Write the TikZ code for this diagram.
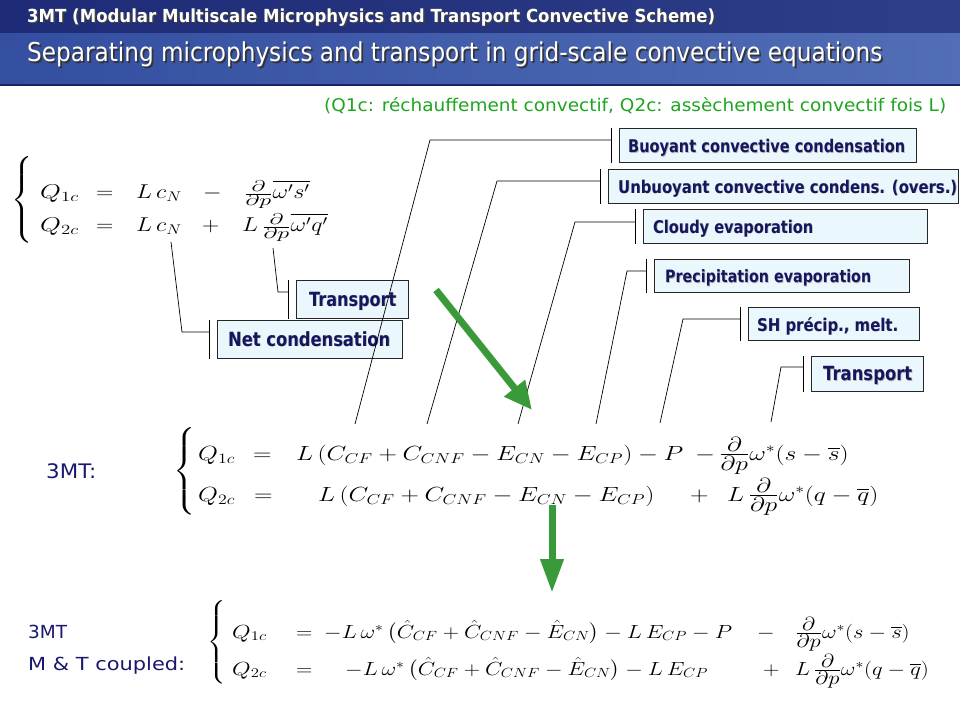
\RequirePackage{fix-cm}
\documentclass[tikz,border=0pt]{standalone}
\usepackage{amsmath}
\usepackage{fontspec}
\usepackage{graphicx}
\usetikzlibrary{arrows.meta}
\newfontfamily\dvs{DejaVu Sans}
\definecolor{navy}{RGB}{24,24,110}
\definecolor{lblnavy}{RGB}{22,22,95}
\definecolor{boxfill}{RGB}{234,248,253}
\definecolor{hdrtopL}{RGB}{30,43,118}
\definecolor{hdrtopR}{RGB}{46,62,136}
\definecolor{hdrmidL}{RGB}{52,78,160}
\definecolor{hdrmidR}{RGB}{82,110,182}
\definecolor{hdrline}{RGB}{24,34,100}
\definecolor{subgreen}{RGB}{30,165,30}
\definecolor{arrgreen}{RGB}{58,154,58}
\newcommand{\shadtxt}[4]{\makebox[0pt][l]{\hspace*{#3}\raisebox{-#3}{\textcolor{#2}{#4}}}\textcolor{#1}{#4}}
\newcommand{\eqa}[1]{\scalebox{1.20}[1]{\fontsize{20}{24}\selectfont$#1$}}
\newcommand{\eqb}[1]{\scalebox{1.25}[1]{\fontsize{20.5}{24}\selectfont$#1$}}
\newcommand{\eqc}[1]{\scalebox{1.19}[1]{\fontsize{19}{23}\selectfont$#1$}}
\newcommand{\pdpa}{\scalebox{1}[0.78]{$\frac{\textstyle\partial}{\textstyle\partial p}$}}
\newcommand{\pdpb}{\frac{\textstyle\partial}{\textstyle\partial p}}
\newcommand{\bracebox}[3]{\scalebox{#1}[1]{\fontsize{#2}{#2}\selectfont$\left\{\vrule height #3 depth #3 width 0pt\right.$}}
\begin{document}
\begin{tikzpicture}[x=1pt,y=-1pt,
  lbox/.style={draw=black!85, line width=0.8pt, fill=boxfill, inner sep=0pt, anchor=north west},
  ltxt/.style={anchor=base west, inner sep=0pt, font=\dvs\bfseries},
  leader/.style={draw=black, line width=0.7pt},
  barline/.style={draw=black, line width=0.9pt},
  garrow/.style={draw=arrgreen, line width=7pt},
  eqn/.style={anchor=base west, inner sep=0pt},
  brc/.style={anchor=west, inner sep=0pt},
  sidetxt/.style={anchor=base west, inner sep=0pt, font=\dvs, text=navy}]
\useasboundingbox (0,0) rectangle (960,720);
\fill[white] (0,0) rectangle (960,720);
% header
\shade[left color=hdrtopL, right color=hdrtopR] (0,0) rectangle (960,33);
\shade[left color=hdrmidL, right color=hdrmidR] (0,33) rectangle (960,84);
\fill[hdrline] (0,84) rectangle (960,86);
\node[anchor=base west, inner sep=0pt] (title1) at (27,22) {\resizebox{688pt}{\height}{\dvs\bfseries\fontsize{18}{21}\selectfont\shadtxt{white}{black!75}{1.6pt}{3MT (Modular Multiscale Microphysics and Transport Convective Scheme)}}};
\node[anchor=base west, inner sep=0pt] (title2) at (27,61.5) {\resizebox{855pt}{\height}{\dvs\fontsize{26}{30}\selectfont\shadtxt{white}{black!80}{2pt}{Separating microphysics and transport in grid-scale convective equations}}};
\node[anchor=base west, inner sep=0pt] (sub) at (324,111) {\resizebox{622pt}{\height}{\dvs\fontsize{17.5}{20}\selectfont\textcolor{subgreen}{(Q1c: réchauffement convectif, Q2c: assèchement convectif fois L)}}};

% equation 1
\node[brc] (br1) at (11,200) {\bracebox{1.15}{20}{38pt}};
\node[eqn] (e1a) at (40,198) {\scalebox{1.12}[1]{\eqa{Q_{1c}}}};
\node[eqn] (e1b) at (96,198) {\eqa{=}};
\node[eqn] (e1c) at (136,198) {\eqa{L\,c_N}};
\node[eqn] (e1d) at (203,198) {\eqa{-}};
\node[eqn] (e1e) at (244,198) {\eqa{\pdpa\overline{\omega' s'}}};
\node[eqn] (e2a) at (40,231) {\scalebox{1.12}[1]{\eqa{Q_{2c}}}};
\node[eqn] (e2b) at (96,231) {\eqa{=}};
\node[eqn] (e2c) at (136,231) {\eqa{L\,c_N}};
\node[eqn] (e2d) at (202,231) {\eqa{+}};
\node[eqn] (e2e) at (242,231) {\eqa{L\,\pdpa\overline{\omega' q'}}};

% equation 2
\node[sidetxt] (lab3mt) at (46,478) {\resizebox{50pt}{\height}{\fontsize{20}{24}\selectfont 3MT:}};
\node[brc] (br2) at (173,471.5) {\bracebox{1.2}{20.5}{36pt}};
\node[eqn] (f1a) at (198,460) {\eqb{Q_{1c}}};
\node[eqn] (f1b) at (253,460) {\eqb{=}};
\node[eqn] (f1c) at (296,460) {\eqb{L\left(C_{CF}+C_{CNF}-E_{CN}-E_{CP}\right)-P}};
\node[eqn] (f1d) at (695,460) {\eqb{-}};
\node[eqn] (f1e) at (719,460) {\eqb{\pdpb\omega^*(s-\overline{s})}};
\node[eqn] (f2a) at (198,501) {\eqb{Q_{2c}}};
\node[eqn] (f2b) at (254,501) {\eqb{=}};
\node[eqn] (f2c) at (318,501) {\eqb{L\left(C_{CF}+C_{CNF}-E_{CN}-E_{CP}\right)}};
\node[eqn] (f2d) at (690,501) {\eqb{+}};
\node[eqn] (f2e) at (727,501) {\eqb{L\,\pdpb\omega^*(q-\overline{q})}};

% equation 3
\node[sidetxt] (lab3mtb) at (28,638) {\resizebox{39pt}{\height}{\fontsize{18}{22}\selectfont 3MT}};
\node[sidetxt] (labmt) at (28,670) {\resizebox{157pt}{\height}{\fontsize{18}{22}\selectfont M \& T coupled:}};
\node[brc] (br3) at (207,642.5) {\bracebox{1.2}{19}{37pt}};
\node[eqn] (g1a) at (232,638) {\scalebox{1.06}[1]{\eqc{Q_{1c}}}};
\node[eqn] (g1b) at (296,638) {\eqc{=}};
\node[eqn] (g1c) at (324,638) {\eqc{-L\,\omega^*\,\bigl(\hat{C}_{CF}+\hat{C}_{CNF}-\hat{E}_{CN}\bigr)-L\,E_{CP}-P}};
\node[eqn] (g1d) at (757,638) {\eqc{-}};
\node[eqn] (g1e) at (795,638) {\eqc{\pdpb\omega^*(s-\overline{s})}};
\node[eqn] (g2a) at (232,675) {\scalebox{1.06}[1]{\eqc{Q_{2c}}}};
\node[eqn] (g2b) at (296,675) {\eqc{=}};
\node[eqn] (g2c) at (345,675) {\eqc{-L\,\omega^*\,\bigl(\hat{C}_{CF}+\hat{C}_{CNF}-\hat{E}_{CN}\bigr)-L\,E_{CP}}};
\node[eqn] (g2d) at (763,675) {\eqc{+}};
\node[eqn] (g2e) at (795,675) {\eqc{L\,\pdpb\omega^*(q-\overline{q})}};

% label boxes
\node[lbox, minimum width=297pt, minimum height=34pt] (bBuoy) at (619,128) {};
\node[lbox, minimum width=350pt, minimum height=34pt] (bUnb) at (608,169) {};
\node[lbox, minimum width=284pt, minimum height=34pt] (bCld) at (643,209) {};
\node[lbox, minimum width=255pt, minimum height=33pt] (bPrc) at (654,259) {};
\node[lbox, minimum width=171pt, minimum height=33pt] (bSH) at (748,307) {};
\node[lbox, minimum width=112pt, minimum height=35pt] (bTrR) at (811,356) {};
\node[lbox, minimum width=112pt, minimum height=38pt] (bTrL) at (296,280) {};
\node[lbox, minimum width=185pt, minimum height=38pt] (bNet) at (217,320) {};

\node[ltxt] (tBuoy) at (628,152.5) {\resizebox{277pt}{\height}{\fontsize{17.5}{20}\selectfont\shadtxt{lblnavy}{black!30}{0.8pt}{Buoyant convective condensation}}};
\node[ltxt] (tUnb) at (618,193) {\resizebox{339pt}{\height}{\fontsize{17.5}{20}\selectfont\shadtxt{lblnavy}{black!30}{0.8pt}{Unbuoyant convective condens. (overs.)}}};
\node[ltxt] (tCld) at (653,233) {\resizebox{160pt}{\height}{\fontsize{17.5}{20}\selectfont\shadtxt{lblnavy}{black!30}{0.8pt}{Cloudy evaporation}}};
\node[ltxt] (tPrc) at (665,282.5) {\resizebox{206pt}{\height}{\fontsize{17}{20}\selectfont\shadtxt{lblnavy}{black!30}{0.8pt}{Precipitation evaporation}}};
\node[ltxt] (tSH) at (757,331) {\resizebox{141pt}{\height}{\fontsize{17.5}{20}\selectfont\shadtxt{lblnavy}{black!30}{0.8pt}{SH précip., melt.}}};
\node[ltxt] (tTrR) at (823,380.5) {\resizebox{89pt}{\height}{\fontsize{19.5}{22}\selectfont\shadtxt{lblnavy}{black!30}{0.9pt}{Transport}}};
\node[ltxt] (tTrL) at (309,306) {\resizebox{87pt}{\height}{\fontsize{19.5}{22}\selectfont\shadtxt{lblnavy}{black!30}{0.9pt}{Transport}}};
\node[ltxt] (tNet) at (228,346) {\resizebox{162pt}{\height}{\fontsize{19.5}{22}\selectfont\shadtxt{lblnavy}{black!30}{0.9pt}{Net condensation}}};

% bars beside boxes
\foreach \b in {bBuoy,bUnb,bCld,bPrc,bSH,bTrR,bTrL,bNet}{
  \draw[barline] ([xshift=-7.5pt]\b.north west) -- ([xshift=-7.5pt]\b.south west);
  \coordinate (k\b) at ([xshift=-7.5pt]\b.west);
}

% leader lines
\coordinate (pBuoy) at (355,424); \coordinate (eBuoy) at (430,140);
\coordinate (pUnb) at (427,424);  \coordinate (eUnb) at (497,181);
\coordinate (pCld) at (518,424);  \coordinate (eCld) at (575,222);
\coordinate (pPrc) at (596,424);  \coordinate (ePrc) at (627,271);
\coordinate (pSH) at (660,423);   \coordinate (eSH) at (683,319);
\coordinate (pTrR) at (771,422);  \coordinate (eTrR) at (781,367);
\coordinate (pTrL) at (273,248);  \coordinate (eTrL) at (278,292);
\coordinate (pNet) at (171,242);  \coordinate (eNet) at (182,332);
\foreach \b in {Buoy,Unb,Cld,Prc,SH,TrR,TrL,Net}{
  \draw[leader] (p\b) -- (e\b) -- (e\b -| kb\b);
}

% green arrows
\coordinate (a1s) at (436,290); \coordinate (a1e) at (532,410);
\coordinate (a2s) at (552,505); \coordinate (a2e) at (552,593);
\draw[garrow, -{Triangle[width=25pt,length=28pt]}] (a1s) -- (a1e);
\draw[garrow, -{Triangle[width=22pt,length=34pt]}] (a2s) -- (a2e);
\end{tikzpicture}
\end{document}
